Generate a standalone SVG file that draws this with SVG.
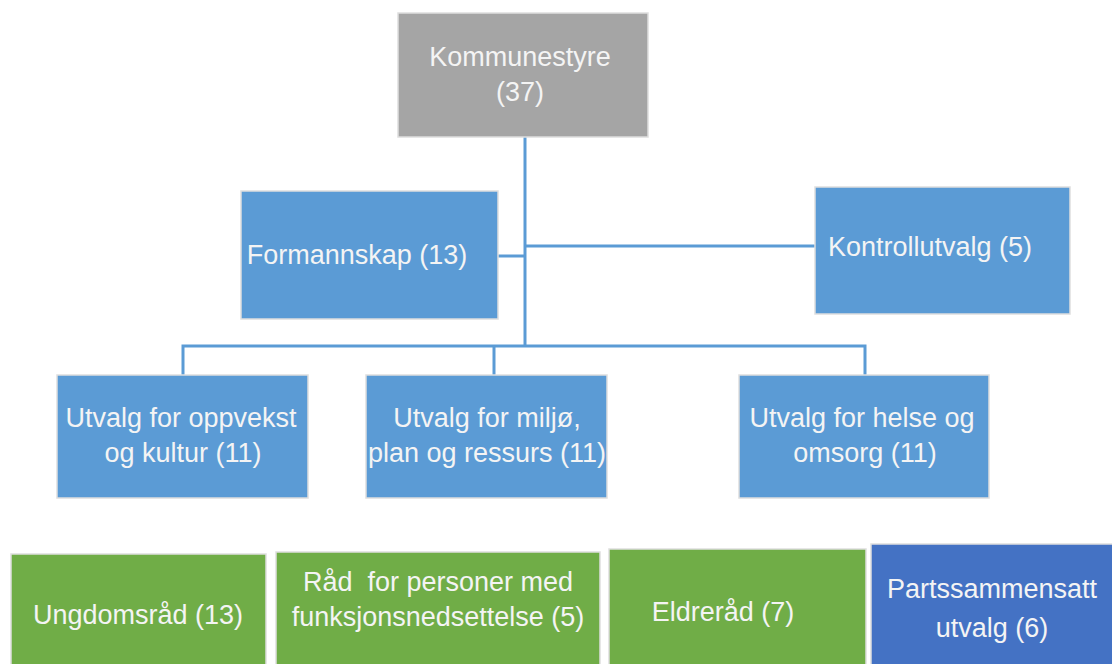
<svg xmlns="http://www.w3.org/2000/svg" width="1112" height="664" viewBox="0 0 1112 664">
<style>
.box{stroke:#dedede;stroke-width:1.5}
.grey{fill:#a5a5a5}
.blue{fill:#5b9bd5}
.green{fill:#70ad47}
.dblue{fill:#4472c4}
text{font-family:"Liberation Sans",Arial,sans-serif;font-size:27px;fill:#f4f4f4;text-anchor:middle}
.conn{stroke:#5b9bd5;stroke-width:3;fill:none}
</style>
<rect width="1112" height="664" fill="#ffffff"/>
<g id="connectors">
<path class="conn" d="M525 137V346"/>
<path class="conn" d="M498 256H525"/>
<path class="conn" d="M525 246H815"/>
<path class="conn" d="M183 375V346H865V375"/>
<path class="conn" d="M494 346V375"/>
</g>
<g id="kommunestyre">
<rect class="box grey" x="398" y="13" width="250" height="124"/>
<text x="520" y="66">Kommunestyre</text>
<text x="520" y="101">(37)</text>
</g>
<g id="formannskap">
<rect class="box blue" x="241" y="191" width="257" height="128"/>
<text x="357" y="264">Formannskap (13)</text>
</g>
<g id="kontrollutvalg">
<rect class="box blue" x="815" y="187" width="255" height="127"/>
<text x="930" y="256">Kontrollutvalg (5)</text>
</g>
<g id="oppvekst">
<rect class="box blue" x="57" y="375" width="251" height="123"/>
<text x="181" y="427">Utvalg for oppvekst</text>
<text x="183" y="462">og kultur (11)</text>
</g>
<g id="miljo">
<rect class="box blue" x="366" y="375" width="241" height="123"/>
<text x="487" y="427">Utvalg for miljø,</text>
<text x="487" y="462">plan og ressurs (11)</text>
</g>
<g id="helse">
<rect class="box blue" x="739" y="375" width="250" height="123"/>
<text x="862" y="427">Utvalg for helse og</text>
<text x="865" y="462">omsorg (11)</text>
</g>
<g id="ungdomsrad">
<rect class="box green" x="11" y="554" width="255" height="115"/>
<text x="138" y="624">Ungdomsråd (13)</text>
</g>
<g id="rad-funksjon">
<rect class="box green" x="276" y="552" width="324" height="117"/>
<text x="438" y="591" style="white-space:pre">Råd  for personer med</text>
<text x="438" y="626">funksjonsnedsettelse (5)</text>
</g>
<g id="eldrerad">
<rect class="box green" x="609" y="549" width="257" height="120"/>
<text x="723" y="621">Eldreråd (7)</text>
</g>
<g id="partssammensatt">
<rect class="box dblue" x="871" y="544" width="245" height="125"/>
<text x="992" y="598">Partssammensatt</text>
<text x="992" y="637">utvalg (6)</text>
</g>
</svg>
